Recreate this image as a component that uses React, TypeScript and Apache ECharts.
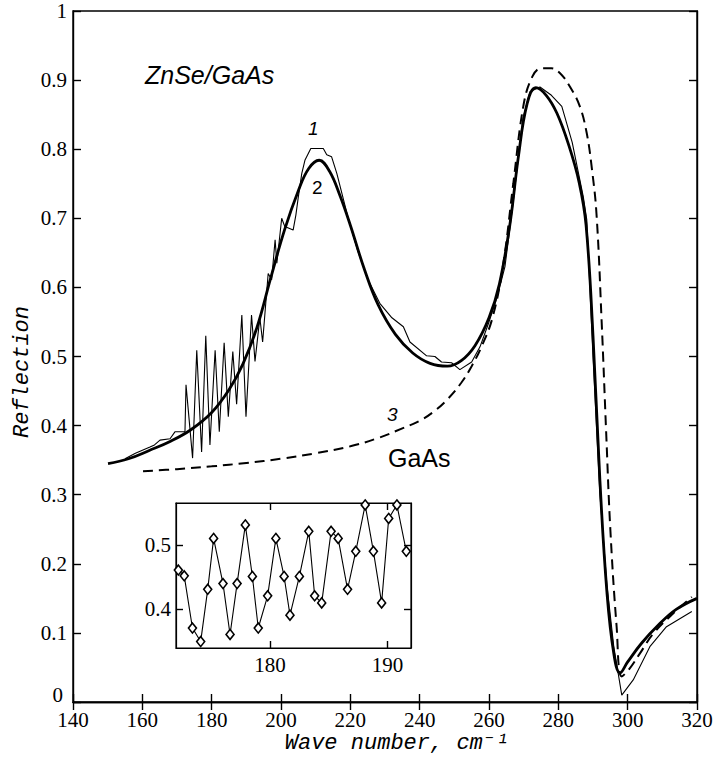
import React, { useEffect, useRef } from "react";
import * as echarts from "echarts";

// Curve 1: measured ZnSe/GaAs reflection (thin line)
const curve1X = [155, 158, 162.2, 163.5, 165.1, 168, 169.4, 172.3, 172.6, 174.5, 175.7, 177.1, 178.3, 179.5, 181.0, 182.2, 183.6, 184.8, 186.1, 187.2, 188.7, 189.9, 191.5, 192.5, 193.9, 194.7, 196.3, 197.3, 198.3, 198.8, 200.2, 201.1, 203.5, 204.3, 205.0, 206.0, 206.9, 208.6, 212.2, 213.2, 214.6, 216.1, 219.4, 222, 225, 228.5, 232, 235.3, 237.2, 242.0, 244.4, 246.3, 249.2, 251.6, 255.0, 257.4, 260, 262.3, 264.6, 266.9, 269.8, 271.8, 274.7, 278, 281.0, 284, 287.2, 288.2, 290, 292, 294, 296, 298.3, 301.6, 306.4, 311.2, 318.5];
const curve1Y = [0.352, 0.36, 0.369, 0.372, 0.379, 0.381, 0.391, 0.391, 0.459, 0.353, 0.509, 0.362, 0.530, 0.372, 0.509, 0.391, 0.520, 0.413, 0.507, 0.431, 0.560, 0.413, 0.560, 0.493, 0.556, 0.521, 0.620, 0.611, 0.669, 0.635, 0.700, 0.688, 0.683, 0.705, 0.731, 0.765, 0.784, 0.801, 0.801, 0.792, 0.789, 0.765, 0.700, 0.655, 0.612, 0.577, 0.556, 0.543, 0.521, 0.501, 0.500, 0.492, 0.491, 0.481, 0.492, 0.514, 0.55, 0.585, 0.63, 0.72, 0.845, 0.883, 0.890, 0.878, 0.862, 0.81, 0.731, 0.698, 0.5, 0.3, 0.17, 0.08, 0.010, 0.032, 0.080, 0.109, 0.131];

// Curve 2: calculated ZnSe/GaAs reflection (thick line)
const curve2X = [150.1, 156, 162, 168, 174, 180, 185, 189, 193, 197, 201, 205, 208, 211, 214, 217, 220, 224, 228, 233, 238, 243, 248, 252, 256, 260, 263, 266, 268.5, 271, 273.5, 276.5, 279.6, 283, 286, 288, 290, 292, 294, 296, 297.8, 300, 304, 309, 314, 320];
const curve2Y = [0.345, 0.352, 0.364, 0.377, 0.394, 0.419, 0.452, 0.489, 0.541, 0.613, 0.683, 0.740, 0.772, 0.784, 0.768, 0.733, 0.690, 0.627, 0.575, 0.532, 0.505, 0.490, 0.486, 0.494, 0.516, 0.556, 0.605, 0.690, 0.790, 0.866, 0.889, 0.878, 0.852, 0.806, 0.752, 0.690, 0.53, 0.32, 0.16, 0.07, 0.042, 0.058, 0.085, 0.112, 0.134, 0.150];

// Curve 3: GaAs substrate reflection (dashed)
const curve3X = [160.2, 170, 180, 190, 200, 210, 220, 228, 235, 240, 244, 248, 252, 255, 258, 261, 264, 267, 270, 272.5, 275, 278, 280.5, 283.4, 286.2, 288.2, 289.6, 291.0, 292.5, 293.8, 295, 296.8, 298.3, 300.5, 303.5, 307.4, 313.1, 318.5];
const curve3Y = [0.334, 0.337, 0.341, 0.346, 0.352, 0.360, 0.370, 0.382, 0.396, 0.407, 0.420, 0.438, 0.462, 0.486, 0.516, 0.556, 0.630, 0.750, 0.865, 0.905, 0.917, 0.917, 0.910, 0.890, 0.862, 0.823, 0.775, 0.707, 0.55, 0.39, 0.25, 0.11, 0.037, 0.048, 0.070, 0.099, 0.128, 0.152];

// Inset: close-up of the interference region (diamonds)
const insetX = [172.2, 172.7, 173.4, 174.1, 174.7, 175.2, 176.0, 176.6, 177.2, 177.9, 178.5, 179.0, 179.8, 180.5, 181.2, 181.7, 182.5, 183.3, 183.8, 184.4, 185.2, 185.8, 186.6, 187.3, 188.1, 188.8, 189.5, 190.1, 190.8, 191.6];
const insetY = [0.461, 0.452, 0.371, 0.350, 0.431, 0.510, 0.440, 0.361, 0.440, 0.531, 0.451, 0.371, 0.421, 0.510, 0.451, 0.391, 0.451, 0.521, 0.421, 0.410, 0.521, 0.510, 0.431, 0.490, 0.562, 0.490, 0.410, 0.541, 0.562, 0.490];

const mainXTicks = { min: 140, max: 320, interval: 20 };
const mainYTicks = { min: 0, max: 1, interval: 0.1 };
const insetXTickValues = [180, 190];
const insetYTickValues = [0.4, 0.5];

const pairs = (xs: number[], ys: number[]) => xs.map((x, i) => [x, ys[i]]);

const serif = "'Liberation Serif', 'Times New Roman', serif";
const mono = "'Liberation Mono', 'DejaVu Sans Mono', monospace";
const sans = "'Liberation Sans', Arial, sans-serif";

export default function App() {
  const ref = useRef<HTMLDivElement>(null);
  useEffect(() => {
    if (!ref.current) return;
    const chart = echarts.init(ref.current, null, { renderer: "svg" });
    const line = { color: "#000", width: 1.4 };
    const tick = { show: true, inside: true, length: 8, lineStyle: { color: "#000", width: 1.4 } };
    const label = { color: "#000", fontFamily: serif, fontSize: 21, margin: 6 };
    chart.setOption({
      animation: false,
      backgroundColor: "#fff",
      grid: [
        {
          left: 73, right: 20, top: 11, bottom: 55, containLabel: false, outerBoundsMode: "none",
          show: true, borderColor: "#000", borderWidth: 1.4, backgroundColor: "transparent",
        },
        {
          left: 176, top: 503, width: 235, height: 145, containLabel: false, outerBoundsMode: "none",
          show: true, borderColor: "#000", borderWidth: 1.2, backgroundColor: "#fff", z: 5,
        },
      ],
      xAxis: [
        {
          type: "value", gridIndex: 0, position: "bottom", ...mainXTicks,
          axisLine: { show: true, lineStyle: line }, axisTick: tick, splitLine: { show: false },
          axisLabel: { ...label, margin: 7 },
        },
        {
          type: "value", gridIndex: 0, position: "top", ...mainXTicks,
          axisLine: { show: true, lineStyle: line }, axisTick: tick, splitLine: { show: false }, axisLabel: { show: false },
        },
        {
          type: "value", gridIndex: 1, position: "bottom", min: 172, max: 192,
          axisLine: { show: true, lineStyle: { color: "#000", width: 1.2 } },
          axisTick: { ...tick, length: 7, customValues: insetXTickValues },
          axisLabel: { ...label, margin: 6, customValues: insetXTickValues },
          splitLine: { show: false }, z: 6,
        },
        {
          type: "value", gridIndex: 1, position: "top", min: 172, max: 192,
          axisLine: { show: true, lineStyle: { color: "#000", width: 1.2 } },
          axisTick: { ...tick, length: 7, customValues: insetXTickValues },
          axisLabel: { show: false }, splitLine: { show: false }, z: 6,
        },
      ],
      yAxis: [
        {
          type: "value", gridIndex: 0, position: "left", ...mainYTicks,
          axisLine: { show: true, lineStyle: line }, axisTick: tick, splitLine: { show: false },
          axisLabel: {
            ...label,
            formatter: (v: number) => (v === 0 ? "{z|0}" : String(Math.round(v * 10) / 10)),
            rich: { z: { fontFamily: serif, fontSize: 21, color: "#000", padding: [0, 4, 14, 0] } },
          },
        },
        {
          type: "value", gridIndex: 0, position: "right", ...mainYTicks,
          axisLine: { show: true, lineStyle: line }, axisTick: tick, splitLine: { show: false }, axisLabel: { show: false },
        },
        {
          type: "value", gridIndex: 1, position: "left", min: 0.34, max: 0.565,
          axisLine: { show: true, lineStyle: { color: "#000", width: 1.2 } },
          axisTick: { ...tick, length: 7, customValues: insetYTickValues },
          axisLabel: { ...label, margin: 5, customValues: insetYTickValues, formatter: (v: number) => v.toFixed(1) },
          splitLine: { show: false }, z: 6,
        },
        {
          type: "value", gridIndex: 1, position: "right", min: 0.34, max: 0.565,
          axisLine: { show: true, lineStyle: { color: "#000", width: 1.2 } },
          axisTick: { ...tick, length: 7, customValues: insetYTickValues },
          axisLabel: { show: false }, splitLine: { show: false }, z: 6,
        },
      ],
      series: [
        {
          type: "line", xAxisIndex: 0, yAxisIndex: 0, data: pairs(curve3X, curve3Y),
          showSymbol: false, smooth: 0.4,
          lineStyle: { color: "#000", width: 2, type: [10, 6] }, z: 2,
        },
        {
          type: "line", xAxisIndex: 0, yAxisIndex: 0, data: pairs(curve2X, curve2Y),
          showSymbol: false, smooth: 0.4,
          lineStyle: { color: "#000", width: 2.8 }, z: 3,
        },
        {
          type: "line", xAxisIndex: 0, yAxisIndex: 0, data: pairs(curve1X, curve1Y),
          showSymbol: false, smooth: false,
          lineStyle: { color: "#000", width: 1.1 }, z: 4,
        },
        {
          type: "line", xAxisIndex: 2, yAxisIndex: 2, data: pairs(insetX, insetY),
          symbol: "diamond", symbolSize: [8, 10], showSymbol: true, smooth: false, clip: true,
          lineStyle: { color: "#000", width: 1.1 },
          itemStyle: { color: "#fff", borderColor: "#000", borderWidth: 1.6 }, z: 7,
        },
      ],
      graphic: [
        {
          type: "text", x: 22, y: 372, rotation: Math.PI / 2,
          style: { text: "Reflection", fontFamily: mono, fontStyle: "italic", fontSize: 22, fill: "#000", align: "center", verticalAlign: "middle" },
        },
        {
          type: "text", x: 397, y: 743,
          style: { text: "Wave number, cm\u207B\u00B9", fontFamily: mono, fontStyle: "italic", fontSize: 22, fill: "#000", align: "center", verticalAlign: "middle" },
        },
        { type: "text", left: 145, top: 62, style: { text: "ZnSe/GaAs", fontFamily: sans, fontStyle: "italic", fontSize: 25, fill: "#000" } },
        { type: "text", left: 388, top: 445, style: { text: "GaAs", fontFamily: sans, fontSize: 25, fill: "#000" } },
        { type: "text", left: 308, top: 119, style: { text: "1", fontFamily: sans, fontStyle: "italic", fontSize: 19, fill: "#000" } },
        { type: "text", left: 312, top: 178, style: { text: "2", fontFamily: sans, fontSize: 19, fill: "#000" } },
        { type: "text", left: 387, top: 405, style: { text: "3", fontFamily: sans, fontStyle: "italic", fontSize: 19, fill: "#000" } },
      ],
    });
    return () => chart.dispose();
  }, []);
  return <div ref={ref} style={{ width: 717, height: 757, position: "absolute", left: 0, top: 0 }} />;
}
